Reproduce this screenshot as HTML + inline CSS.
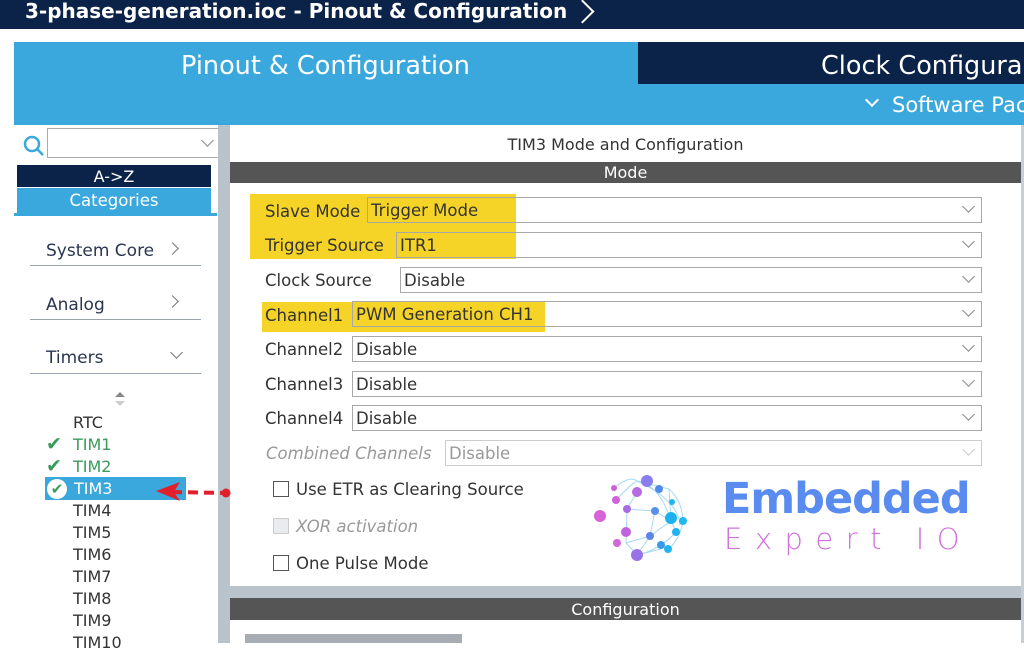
<!DOCTYPE html>
<html><head><meta charset="utf-8"><style>
*{margin:0;padding:0;box-sizing:border-box}
body{width:1024px;height:643px;overflow:hidden;background:#fff;font-family:"DejaVu Sans","Liberation Sans",sans-serif;position:relative}
.a{position:absolute;white-space:nowrap}
.lbl{font-size:16.5px;color:#333;line-height:20px}
.box{position:absolute;border:1px solid #a8a8a8;background:#fff;height:26px;font-size:16.5px;color:#333;padding-left:3px;line-height:26px}
.chev{position:absolute;right:8px;top:4px;width:9px;height:9px;border-right:1.5px solid #888;border-bottom:1.5px solid #888;transform:rotate(45deg)}
.tim{position:absolute;left:73px;font-size:16px;color:#333;line-height:20px}
.sep{position:absolute;left:30px;width:171px;height:1px;background:#9aa3ad}
.cb{position:absolute;left:273px;width:16px;height:16px;border:1px solid #555;background:#fff}
</style></head><body>
<div class="a" style="left:0;top:0;width:1024px;height:29px;background:#0b2348"></div>
<div class="a" style="left:25px;top:-1px;line-height:24px;font-size:20px;font-weight:bold;color:#fff">3-phase-generation.ioc - Pinout &amp; Configuration</div>
<div class="a" style="left:574px;top:3px;width:17px;height:17px;border-right:2px solid #fff;border-top:2px solid #fff;transform:rotate(45deg)"></div>
<div class="a" style="left:14px;top:42px;width:1010px;height:83px;background:#3aa8dc"></div>
<div class="a" style="left:638px;top:42px;width:386px;height:42px;background:#0b2348"></div>
<div class="a" style="left:181px;top:51px;font-size:25.5px;color:#fff">Pinout &amp; Configuration</div>
<div class="a" style="left:821px;top:51px;font-size:25.5px;color:#fff">Clock Configura</div>
<div class="a" style="left:867px;top:95px;width:10px;height:10px;border-right:2px solid #fff;border-bottom:2px solid #fff;transform:rotate(45deg)"></div>
<div class="a" style="left:892px;top:93px;font-size:21px;color:#fff">Software Pac</div>
<!-- left panel -->
<svg class="a" style="left:22px;top:134px" width="24" height="24"><circle cx="10" cy="10" r="7" fill="none" stroke="#3aa8dc" stroke-width="2.5"/><line x1="15" y1="15" x2="21" y2="21" stroke="#3aa8dc" stroke-width="2.5"/></svg>
<div class="a" style="left:47px;top:128px;width:172px;height:30px;border:1px solid #aaa;background:#fff"><div class="chev" style="right:6px;top:7px"></div></div>
<div class="a" style="left:17px;top:165px;width:194px;height:22px;background:#0b2348;color:#fff;font-size:16px;text-align:center;line-height:24px">A-&gt;Z</div>
<div class="a" style="left:17px;top:188px;width:194px;height:25px;background:#3aa8dc;color:#fff;font-size:16.5px;text-align:center;line-height:26px">Categories</div>
<div class="a" style="left:14px;top:213px;width:203px;height:3px;background:#3aa8dc"></div>
<div class="a" style="left:46px;top:241px;font-size:17px;color:#2a3550">System Core</div>
<div class="a" style="left:168px;top:244px;width:9px;height:9px;border-right:1.5px solid #777;border-top:1.5px solid #777;transform:rotate(45deg)"></div>
<div class="sep" style="top:265px"></div>
<div class="a" style="left:46px;top:295px;font-size:17px;color:#2a3550">Analog</div>
<div class="a" style="left:168px;top:297px;width:9px;height:9px;border-right:1.5px solid #777;border-top:1.5px solid #777;transform:rotate(45deg)"></div>
<div class="sep" style="top:319px"></div>
<div class="a" style="left:46px;top:348px;font-size:17px;color:#2a3550">Timers</div>
<div class="a" style="left:172px;top:348px;width:9px;height:9px;border-right:1.5px solid #777;border-bottom:1.5px solid #777;transform:rotate(45deg)"></div>
<div class="sep" style="top:373px"></div>
<svg class="a" style="left:114px;top:391px" width="12" height="16"><polygon points="6,1 11,6 1,6" fill="#888"/><polygon points="6,15 11,10 1,10" fill="#ccc"/></svg>
<div class="tim" style="top:413px">RTC</div>
<div class="tim" style="top:435px;color:#3a9a5a">TIM1</div>
<div class="a" style="left:46px;top:433px;color:#3a9a5a;font-size:19px;font-weight:bold">✔</div>
<div class="tim" style="top:457px;color:#3a9a5a">TIM2</div>
<div class="a" style="left:46px;top:455px;color:#3a9a5a;font-size:19px;font-weight:bold">✔</div>
<div class="a" style="left:45px;top:477px;width:141px;height:23px;background:#3aa8dc"></div>
<div class="a" style="left:47px;top:479px;width:20px;height:20px;border-radius:50%;background:#fff;color:#3a9a5a;font-size:15px;font-weight:bold;text-align:center;line-height:20px">✔</div>
<div class="tim" style="top:479px;color:#fff;left:74px">TIM3</div>
<div class="tim" style="top:501px">TIM4</div>
<div class="tim" style="top:523px">TIM5</div>
<div class="tim" style="top:545px">TIM6</div>
<div class="tim" style="top:567px">TIM7</div>
<div class="tim" style="top:589px">TIM8</div>
<div class="tim" style="top:611px">TIM9</div>
<div class="tim" style="top:633px">TIM10</div>
<!-- divider -->
<div class="a" style="left:218px;top:125px;width:12px;height:518px;background:#b9c3cb"></div>
<div class="a" style="left:1021px;top:125px;width:3px;height:518px;background:#c8ced3"></div>
<div class="a" style="left:230px;top:135px;width:791px;text-align:center;font-size:16px;color:#333">TIM3 Mode and Configuration</div>
<div class="a" style="left:230px;top:162px;width:791px;height:21px;background:#555;color:#fff;font-size:16px;text-align:center;line-height:22px">Mode</div>
<div class="a" style="left:250px;top:194px;width:266px;height:65px;background:#f5d327"></div>
<div class="a" style="left:262px;top:302px;width:283px;height:30px;background:#f5d327"></div>
<div class="a lbl" style="left:265px;top:202px">Slave Mode</div>
<div class="box" style="left:367px;top:197px;width:615px;background:transparent">Trigger Mode<div class="chev"></div></div>
<div class="a lbl" style="left:265px;top:236px">Trigger Source</div>
<div class="box" style="left:396px;top:232px;width:586px;background:transparent">ITR1<div class="chev"></div></div>
<div class="a lbl" style="left:265px;top:271px">Clock Source</div>
<div class="box" style="left:400px;top:267px;width:582px">Disable<div class="chev"></div></div>
<div class="a lbl" style="left:265px;top:306px">Channel1</div>
<div class="box" style="left:352px;top:301px;width:630px;background:transparent">PWM Generation CH1<div class="chev"></div></div>
<div class="a lbl" style="left:265px;top:340px">Channel2</div>
<div class="box" style="left:352px;top:336px;width:630px">Disable<div class="chev"></div></div>
<div class="a lbl" style="left:265px;top:375px">Channel3</div>
<div class="box" style="left:352px;top:371px;width:630px">Disable<div class="chev"></div></div>
<div class="a lbl" style="left:265px;top:409px">Channel4</div>
<div class="box" style="left:352px;top:405px;width:630px">Disable<div class="chev"></div></div>
<div class="a lbl" style="left:266px;top:444px;color:#999;font-style:italic">Combined Channels</div>
<div class="box" style="left:445px;top:440px;width:537px;color:#999;border-color:#ccc">Disable<div class="chev" style="border-color:#ccc"></div></div>
<div class="cb" style="top:481px"></div>
<div class="a lbl" style="left:296px;top:480px">Use ETR as Clearing Source</div>
<div class="cb" style="top:518px;background:#e8ecef;border-color:#ccc"></div>
<div class="a lbl" style="left:296px;top:517px;color:#999;font-style:italic">XOR activation</div>
<div class="cb" style="top:555px"></div>
<div class="a lbl" style="left:296px;top:554px">One Pulse Mode</div>
<!-- logo -->
<svg class="a" style="left:590px;top:470px" width="110" height="95">
<g stroke="#8fd0f0" stroke-width="1" fill="none" opacity="0.8">
<path d="M24,18 Q40,5 47,11 Q70,15 81,51"/><path d="M26,30 Q40,15 47,11"/><path d="M47,11 L79,19 L81,51"/><path d="M37,39 L65,41 L81,51 L86,62"/><path d="M37,39 L36,73 L47,85"/><path d="M47,22 L37,39"/><path d="M47,85 L60,66 L81,51"/><path d="M47,85 Q70,80 86,62"/><path d="M47,85 L71,79"/><path d="M36,73 L60,66"/><path d="M65,41 L60,66"/><path d="M79,19 Q92,30 93,51 Q90,70 78,79"/><path d="M47,11 Q88,30 90,55"/></g>
<circle cx="10" cy="46" r="6" fill="#d863d8"/><circle cx="24" cy="18" r="3" fill="#d35ed6"/><circle cx="26" cy="30" r="4" fill="#cf62d8"/>
<circle cx="57" cy="11" r="6" fill="#8a7df0"/><circle cx="47" cy="22" r="5" fill="#b66ae0"/><circle cx="37" cy="39" r="4" fill="#a96be0"/>
<circle cx="65" cy="41" r="4" fill="#5a8fe8"/><circle cx="69" cy="19" r="4" fill="#4f8be8"/><circle cx="81" cy="48" r="6" fill="#1fb0ee"/>
<circle cx="93" cy="51" r="4" fill="#20b8f0"/><circle cx="86" cy="62" r="4" fill="#22b3ee"/><circle cx="36" cy="62" r="5" fill="#c163dc"/>
<circle cx="27" cy="73" r="4" fill="#d066d8"/><circle cx="60" cy="66" r="4" fill="#5a85e6"/><circle cx="47" cy="85" r="6" fill="#9a72e8"/>
<circle cx="71" cy="75" r="4" fill="#3a9ae8"/><circle cx="78" cy="79" r="4" fill="#22b5ee"/><circle cx="82" cy="32" r="3" fill="#22b5ee"/>
</svg>
<div class="a" style="left:722px;top:474px;font-size:43px;font-weight:bold;color:#5a8cf0;letter-spacing:-1px">Embedded</div>
<div class="a" style="left:724px;top:522px;font-size:29px;font-weight:200;color:#d070dc;letter-spacing:12.5px">Expert IO</div>
<!-- arrow -->
<svg class="a" style="left:150px;top:480px" width="85" height="24">
<line x1="22" y1="12" x2="75" y2="13" stroke="#e0202a" stroke-width="4" stroke-dasharray="10,6"/>
<polygon points="6,11 30,2 24,12 30,21" fill="#e0202a"/>
<circle cx="76" cy="13" r="4.5" fill="#e0202a"/>
</svg>
<!-- bottom -->
<div class="a" style="left:230px;top:586px;width:791px;height:12px;background:#b9c3cb"></div>
<div class="a" style="left:230px;top:598px;width:791px;height:22px;background:#555;color:#fff;font-size:16px;text-align:center;line-height:23px">Configuration</div>
<div class="a" style="left:245px;top:634px;width:217px;height:9px;background:#a7adb2"></div>
</body></html>
